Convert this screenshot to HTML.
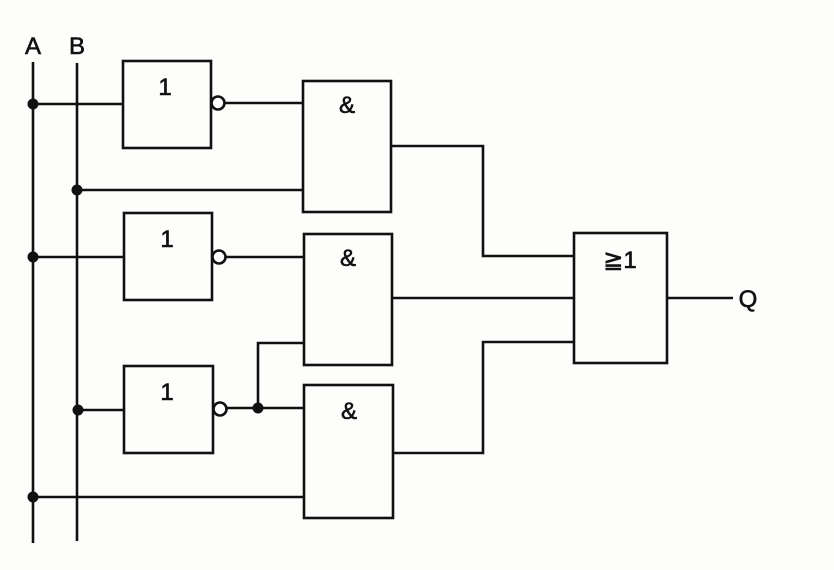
<!DOCTYPE html>
<html><head><meta charset="utf-8"><style>html,body{margin:0;padding:0;background:#fff}</style></head><body>
<svg width="834" height="570" xmlns="http://www.w3.org/2000/svg" style="display:block">
<rect width="834" height="570" fill="#fdfdfb"/>
<g stroke="#111" stroke-width="2.6" fill="none">
<line x1="33" y1="62" x2="33" y2="543"/>
<line x1="77" y1="63" x2="77" y2="541"/>
<rect x="123" y="61" width="88" height="87"/>
<rect x="124" y="213" width="88" height="87"/>
<rect x="124" y="366" width="89" height="87"/>
<rect x="303" y="81" width="88" height="131"/>
<rect x="304" y="234" width="88" height="131"/>
<rect x="304" y="385" width="89" height="133"/>
<rect x="574" y="233" width="93" height="130"/>
<circle cx="218" cy="103" r="6.5" fill="#fff"/>
<circle cx="219" cy="257" r="6.5" fill="#fff"/>
<circle cx="220" cy="409" r="6.5" fill="#fff"/>
<line x1="33" y1="104" x2="123" y2="104"/>
<line x1="224" y1="103" x2="303" y2="103"/>
<line x1="77" y1="190" x2="303" y2="190"/>
<line x1="33" y1="257" x2="124" y2="257"/>
<line x1="225" y1="257" x2="304" y2="257"/>
<line x1="78" y1="410" x2="124" y2="410"/>
<line x1="226" y1="408" x2="304" y2="408"/>
<polyline points="258,408 258,343 304,343"/>
<line x1="33" y1="497" x2="304" y2="497"/>
<polyline points="391,146 483,146 483,256 574,256"/>
<line x1="392" y1="298" x2="574" y2="298"/>
<polyline points="393,453 483,453 483,342 574,342"/>
<line x1="667" y1="298" x2="733" y2="298"/>
</g>
<g fill="#111">
<circle cx="33" cy="104" r="5.5"/>
<circle cx="77" cy="190" r="5.5"/>
<circle cx="33" cy="257" r="5.5"/>
<circle cx="78" cy="410" r="5.5"/>
<circle cx="258" cy="408" r="5.5"/>
<circle cx="33" cy="497" r="5.5"/>
</g>
<g font-family="Liberation Sans, DejaVu Sans, sans-serif" font-size="24" fill="#111" text-anchor="middle" stroke="#111" stroke-width="0.6">
<text x="33" y="54">A</text>
<text x="77" y="54">B</text>
<text x="165" y="95">1</text>
<text x="167" y="247">1</text>
<text x="167" y="400">1</text>
<text x="347" y="113">&amp;</text>
<text x="348" y="266">&amp;</text>
<text x="349" y="419">&amp;</text>
<text x="620" y="268">≧1</text>
<text x="748" y="307">Q</text>
</g>
</svg>
</body></html>
